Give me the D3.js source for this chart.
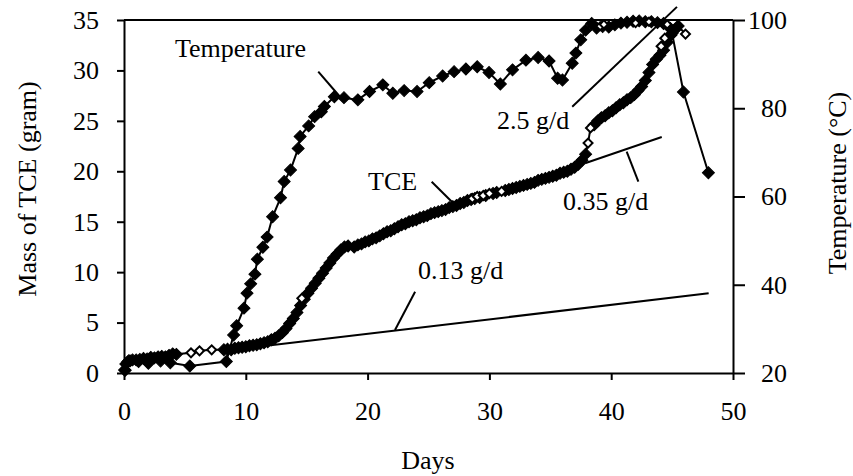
<!DOCTYPE html>
<html>
<head>
<meta charset="utf-8">
<script src="https://cdn.jsdelivr.net/npm/d3@7"></script>
<style>
    body { margin: 0; background: #fff; }
    svg { display: block; font-family: "Liberation Serif", "Times New Roman", serif; }
</style>
</head>
<body>
<svg id="chart" width="853" height="476"></svg>
<script>
// tick values
const dayTicks = [0, 10, 20, 30, 40, 50];
const massTicks = [0, 5, 10, 15, 20, 25, 30, 35];
const tempTicks = [20, 40, 60, 80, 100];

// temperature (°C) vs day, filled diamonds
const temperature = [
    [0.1, 20.6], [0.4, 22.8], [1.2, 22.6], [2.0, 22.2], [3.0, 22.7], [3.8, 22.3], [5.4, 21.6],
    [8.4, 22.6], [9.0, 28.6], [9.25, 30.7], [9.85, 34.7], [10.1, 38.1], [10.4, 40.2], [10.75, 42.4],
    [10.95, 45.8], [11.4, 48.5], [11.75, 50.8], [12.2, 55.4], [12.85, 59.7], [13.15, 63.4],
    [13.67, 66.0], [14.3, 70.9], [14.46, 73.6], [15.16, 76.0], [15.65, 78.1], [16.2, 79.2],
    [16.45, 80.4], [17.27, 82.6], [18.06, 82.4], [19.2, 81.9], [20.16, 83.8], [21.25, 85.3],
    [22.07, 83.4], [23.0, 84.0], [24.06, 83.8], [25.06, 85.8], [26.16, 87.3], [27.1, 88.3],
    [28.07, 88.9], [29.0, 89.4], [29.97, 88.1], [30.9, 85.5], [31.9, 88.7], [33.0, 90.9],
    [34.0, 91.5], [34.9, 90.7], [35.6, 86.8], [36.0, 86.4], [36.8, 90.2], [37.1, 92.5],
    [37.5, 95.5], [37.9, 97.7], [38.4, 99.2], [38.8, 98.2], [39.3, 98.5], [39.8, 98.4],
    [40.3, 98.9], [40.8, 99.3], [41.3, 99.5], [41.8, 99.7], [42.3, 99.8], [42.8, 99.6],
    [43.3, 99.6], [43.8, 99.4], [44.3, 99.2], [44.85, 98.1], [45.0, 97.0], [45.93, 83.7],
    [47.98, 65.4]
];
// temperature, open diamonds
const temperatureOpen = [[39.1, 98.6], [39.4, 99.0], [42.0, 99.3], [43.1, 99.6], [44.6, 99.0]];

// mass of TCE (g) vs day, filled diamonds
const tce = [
    [0.05, 0.3], [0.15, 0.9], [0.3, 1.1], [0.5, 1.2], [0.7, 1.3], [1.0, 1.3], [1.3, 1.35],
    [1.6, 1.45], [1.9, 1.4], [2.2, 1.55], [2.5, 1.5], [2.8, 1.6], [3.1, 1.65], [3.4, 1.6],
    [3.7, 1.75], [4.0, 1.9], [4.3, 1.85], [8.2, 2.3], [8.5, 2.35], [8.8, 2.3], [9.1, 2.45],
    [9.4, 2.5], [9.7, 2.55], [10.0, 2.6], [10.3, 2.7], [10.6, 2.75], [10.9, 2.8], [11.2, 2.9],
    [11.5, 3.0], [11.8, 3.1], [12.1, 3.3], [12.4, 3.45], [12.7, 3.7], [13.0, 4.0], [13.3, 4.4],
    [13.6, 4.9], [13.9, 5.4], [14.2, 6.0], [14.5, 6.7], [14.8, 7.3], [15.1, 7.9], [15.4, 8.4],
    [15.7, 8.9], [16.0, 9.4], [16.3, 9.9], [16.6, 10.4], [16.9, 10.9], [17.2, 11.4], [17.5, 11.8],
    [17.8, 12.2], [18.1, 12.5], [18.4, 12.6], [18.9, 12.5], [19.2, 12.7], [19.5, 12.8],
    [19.8, 13.0], [20.1, 13.1], [20.4, 13.3], [20.7, 13.4], [21.0, 13.6], [21.3, 13.8],
    [21.6, 14.0], [21.9, 14.1], [22.2, 14.3], [22.5, 14.5], [22.8, 14.7], [23.1, 14.8],
    [23.4, 15.0], [23.7, 15.1], [24.0, 15.2], [24.3, 15.4], [24.6, 15.5], [24.9, 15.6],
    [25.2, 15.8], [25.5, 15.9], [25.8, 16.0], [26.1, 16.1], [26.4, 16.2], [26.7, 16.4],
    [27.0, 16.5], [27.3, 16.6], [27.6, 16.8], [27.9, 16.9], [28.2, 17.1], [28.5, 17.2],
    [28.8, 17.3], [29.2, 17.4], [29.7, 17.6], [30.3, 17.8], [30.6, 17.9], [31.3, 18.1],
    [31.6, 18.2], [31.9, 18.3], [32.2, 18.4], [32.5, 18.5], [32.8, 18.6], [33.1, 18.7],
    [33.4, 18.8], [33.7, 18.9], [34.0, 19.1], [34.3, 19.2], [34.6, 19.3], [34.9, 19.4],
    [35.2, 19.5], [35.5, 19.6], [35.8, 19.8], [36.1, 19.9], [36.4, 20.0], [36.7, 20.2],
    [37.0, 20.4], [37.3, 20.7], [37.6, 21.1], [37.9, 21.7], [38.6, 24.6], [38.9, 25.0],
    [39.2, 25.3], [39.5, 25.5], [39.8, 25.8], [40.1, 26.0], [40.4, 26.3], [40.7, 26.6],
    [41.0, 26.8], [41.3, 27.1], [41.6, 27.3], [41.9, 27.6], [42.2, 28.0], [42.5, 28.4],
    [42.8, 29.0], [43.1, 29.8], [43.4, 30.6], [43.7, 31.1], [44.0, 31.5], [44.3, 32.0],
    [44.6, 32.8], [44.9, 33.5], [45.2, 34.0], [45.5, 34.4]
];
// mass of TCE, open diamonds
const tceOpen = [
    [5.5, 2.0], [6.2, 2.2], [7.2, 2.3], [14.6, 7.4], [28.6, 17.3], [29.0, 17.5], [29.5, 17.6],
    [30.0, 17.8], [31.0, 18.0], [38.1, 22.8], [38.3, 24.3], [44.1, 32.4], [44.4, 33.2], [46.1, 33.6]
];

// fitted rate lines (day, mass)
const rateLines = [
    { label: "0.13 g/d", from: [11.0, 2.6], to: [48.0, 7.9] },
    { label: "0.35 g/d", from: [37.85, 20.8], to: [44.15, 23.4] },
    { label: "2.5 g/d", from: [36.8, 26.4], to: [45.4, 36.3] }
];
// leader lines, in (day, mass) or (day, temperature)
const massLeaders = [
    { from: [23.9, 8.06], to: [22.25, 4.26] },
    { from: [41.27, 21.94], to: [42.23, 18.97] },
    { from: [25.26, 18.97], to: [27.04, 16.83] }
];
const tempLeaders = [
    { from: [15.95, 88.3], to: [17.73, 82.6] }
];

const svg = d3.select('#chart');
const plotLeft = 124, plotRight = 733, plotTop = 20, plotBottom = 373;

const x = d3.scaleLinear().domain([0, 50]).range([plotLeft, plotRight]);
const yMass = d3.scaleLinear().domain([0, 35]).range([plotBottom, plotTop]);
const yTemp = d3.scaleLinear().domain([20, 100]).range([plotBottom, plotTop]);

svg.append('rect').attr('width', 853).attr('height', 476).attr('fill', '#fff');

// frame top line
svg.append('line')
    .attr('x1', plotLeft).attr('x2', plotRight)
    .attr('y1', plotTop).attr('y2', plotTop)
    .attr('stroke', '#000').attr('stroke-width', 2);

const fontSize = 26;

// axes
const xAxis = svg.append('g')
    .attr('transform', `translate(0,${plotBottom})`)
    .call(d3.axisBottom(x).tickValues(dayTicks).tickSize(7).tickSizeOuter(0));
xAxis.selectAll('text').attr('y', 47).attr('dy', 0);

const leftAxis = svg.append('g')
    .attr('transform', `translate(${plotLeft},0)`)
    .call(d3.axisLeft(yMass).tickValues(massTicks).tickSize(7).tickSizeOuter(0));
leftAxis.selectAll('text').attr('x', -25);

const rightAxis = svg.append('g')
    .attr('transform', `translate(${plotRight},0)`)
    .call(d3.axisRight(yTemp).tickValues(tempTicks).tickSize(12).tickSizeOuter(0));
rightAxis.selectAll('text').attr('x', 54).attr('text-anchor', 'end');

for (const g of [xAxis, leftAxis, rightAxis]) {
    g.selectAll('path.domain').attr('stroke', '#000').attr('stroke-width', 2);
    g.selectAll('line').attr('stroke', '#000').attr('stroke-width', 2);
    g.selectAll('text')
        .attr('font-family', '"Liberation Serif", serif')
        .attr('font-size', fontSize)
        .attr('fill', '#000');
}

// axis titles
svg.append('text')
    .attr('transform', 'translate(36,189) rotate(-90)')
    .attr('text-anchor', 'middle')
    .attr('font-size', fontSize)
    .text('Mass of TCE (gram)');

svg.append('text')
    .attr('transform', 'translate(846,183) rotate(-90)')
    .attr('text-anchor', 'middle')
    .attr('font-size', fontSize)
    .text('Temperature (°C)');

svg.append('text')
    .attr('x', 428).attr('y', 469)
    .attr('text-anchor', 'middle')
    .attr('font-size', fontSize)
    .text('Days');

// rate lines and leaders
const annot = svg.append('g').attr('stroke', '#000').attr('stroke-width', 2);
annot.selectAll('line.rate')
    .data(rateLines)
    .join('line')
    .attr('class', 'rate')
    .attr('x1', d => x(d.from[0])).attr('y1', d => yMass(d.from[1]))
    .attr('x2', d => x(d.to[0])).attr('y2', d => yMass(d.to[1]));

annot.selectAll('line.mlead')
    .data(massLeaders)
    .join('line')
    .attr('class', 'mlead')
    .attr('x1', d => x(d.from[0])).attr('y1', d => yMass(d.from[1]))
    .attr('x2', d => x(d.to[0])).attr('y2', d => yMass(d.to[1]));

annot.selectAll('line.tlead')
    .data(tempLeaders)
    .join('line')
    .attr('class', 'tlead')
    .attr('x1', d => x(d.from[0])).attr('y1', d => yTemp(d.from[1]))
    .attr('x2', d => x(d.to[0])).attr('y2', d => yTemp(d.to[1]));

// diamond markers
function diamond(g, data, yScale, size, open) {
    const sym = d3.symbol(d3.symbolSquare, size * size / 2);
    g.selectAll(null)
        .data(data)
        .join('path')
        .attr('d', sym)
        .attr('transform', d => `translate(${x(d[0])},${yScale(d[1])}) rotate(45)`)
        .attr('fill', open ? '#fff' : '#000')
        .attr('stroke', '#000')
        .attr('stroke-width', open ? 2 : 1);
}

const line = (yScale) => d3.line().x(d => x(d[0])).y(d => yScale(d[1]));

// TCE series
const tceAll = tce.concat(tceOpen).sort((a, b) => a[0] - b[0]);
svg.append('path')
    .attr('d', line(yMass)(tceAll))
    .attr('fill', 'none').attr('stroke', '#000').attr('stroke-width', 2);
const tceG = svg.append('g');
diamond(tceG, tce, yMass, 12, false);
diamond(tceG, tceOpen, yMass, 9, true);

// temperature series
svg.append('path')
    .attr('d', line(yTemp)(temperature))
    .attr('fill', 'none').attr('stroke', '#000').attr('stroke-width', 2);
const tempG = svg.append('g');
diamond(tempG, temperature, yTemp, 12, false);
diamond(tempG, temperatureOpen, yTemp, 8, true);

// labels
const labels = [
    { text: 'Temperature', x: 175, y: 57 },
    { text: 'TCE', x: 368, y: 190 },
    { text: '2.5 g/d', x: 497, y: 129 },
    { text: '0.35 g/d', x: 563, y: 210 },
    { text: '0.13 g/d', x: 418, y: 279 }
];
svg.selectAll('text.lbl')
    .data(labels)
    .join('text')
    .attr('class', 'lbl')
    .attr('x', d => d.x).attr('y', d => d.y)
    .attr('font-size', fontSize)
    .text(d => d.text);
</script>
</body>
</html>
